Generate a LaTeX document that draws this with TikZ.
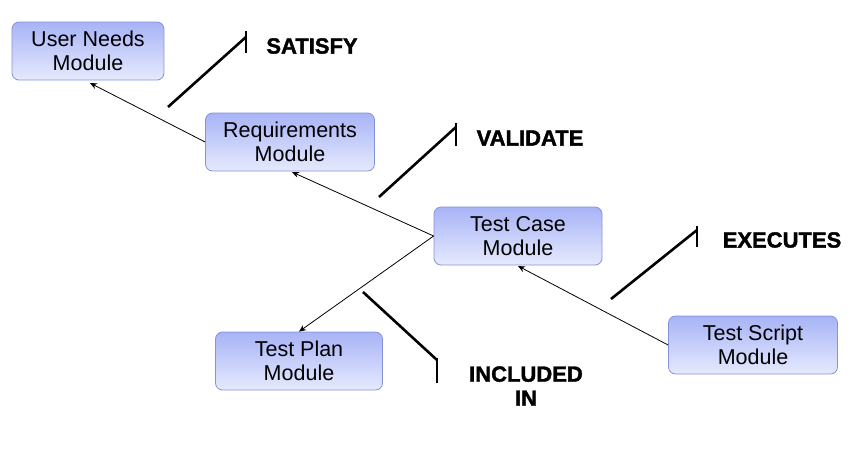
\documentclass[tikz,border=0pt]{standalone}
\usepackage{fontspec}
\setmainfont{Liberation Sans}
\newfontfamily\verbfont[FakeBold=1.6]{Liberation Sans Bold}
\usetikzlibrary{arrows.meta}
\definecolor{boxtop}{HTML}{A7B3F6}
\definecolor{boxbot}{HTML}{E6EAFD}
\definecolor{boxline}{HTML}{8593DA}
\tikzset{
  module/.style={draw=boxline, line width=0.8pt, rounded corners=7pt,
                 top color=boxtop, bottom color=boxbot, align=center,
                 minimum width=152pt, minimum height=58pt, inner sep=2pt,
                 text depth=-1pt, font=\fontsize{21.5}{24}\selectfont},
  link/.style={-{Stealth[length=7pt,width=6pt]}, line width=0.8pt, draw=black},
  callout/.style={line width=2.6pt, draw=black},
  tick/.style={line width=2.6pt, draw=black},
  verb/.style={align=center, font=\verbfont\fontsize{22}{24}\selectfont},
}
\begin{document}
\begin{tikzpicture}[x=1pt, y=-1pt]
  \useasboundingbox (0,0) rectangle (867,448);
  % modules
  \node[module] (user) at (88,51) {User Needs\\Module};
  \node[module, minimum width=169pt] (req) at (290,142) {Requirements\\Module};
  \node[module, minimum width=168pt] (tcase) at (518,236) {Test Case\\Module};
  \node[module, minimum width=167pt] (tplan) at (299,361) {Test Plan\\Module};
  \node[module, minimum width=169pt] (tscript) at (753,345) {Test Script\\Module};
  % relations
  \draw[link] (req.west) -- (90,83);
  \draw[link] (tcase.west) -- (292,172);
  \draw[link] (tcase.west) -- (tplan.north);
  \draw[link] (tscript.west) -- (518,266);
  % callouts
  \coordinate (s0) at (168,107); \coordinate (s1) at (246,37);
  \coordinate (v0) at (379,197); \coordinate (v1) at (456,127);
  \coordinate (e0) at (611,299); \coordinate (e1) at (697,230);
  \coordinate (i0) at (363,292); \coordinate (i1) at (437,360);
  \draw[callout] (s0) -- (s1);
  \draw[tick] ([yshift=6pt]s1) -- ([yshift=-16pt]s1);
  \draw[callout] (v0) -- (v1);
  \draw[tick] ([yshift=4pt]v1) -- ([yshift=-19pt]v1);
  \draw[callout] (e0) -- (e1);
  \draw[tick] ([yshift=4pt]e1) -- ([yshift=-17pt]e1);
  \draw[callout] (i0) -- (i1);
  \draw[tick] ([yshift=2pt]i1) -- ([yshift=-23pt]i1);
  \node[verb] (satisfy) at (312,46) {SATISFY};
  \node[verb] (validate) at (530,138) {VALIDATE};
  \node[verb] (executes) at (782,240) {EXECUTES};
  \node[verb] (included) at (526,386) {INCLUDED\\IN};
\end{tikzpicture}
\end{document}
